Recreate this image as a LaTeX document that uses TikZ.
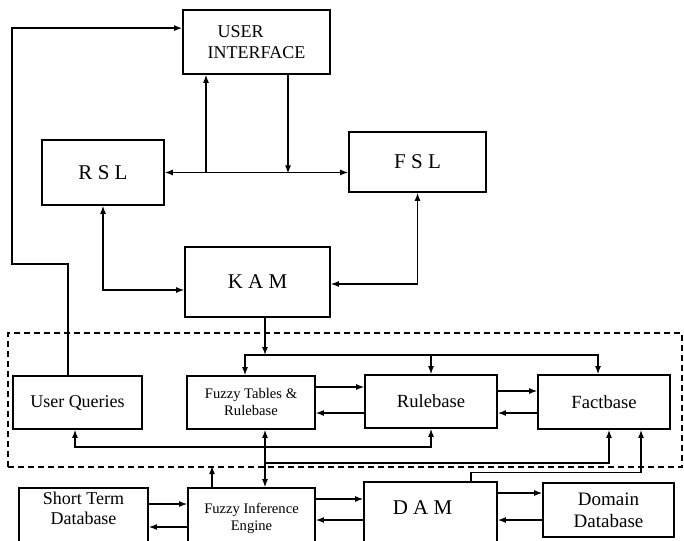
\documentclass[tikz,border=0pt]{standalone}
\usepackage{fontspec}
\setmainfont{Liberation Serif}
\newfontfamily\boxfont{Liberation Serif}
\usepackage{tikz}
\usetikzlibrary{positioning}
\usetikzlibrary{arrows.meta}

\begin{document}
\begin{tikzpicture}[
  x=0.5pt, y=-0.5pt,
  line width=0.6pt,
  >={Latex[length=4pt,width=3pt]},
  box/.style={draw, line width=0.9pt, inner sep=0pt, align=center},
  txt/.style={inner sep=0pt, align=center},
  big/.style={font=\boxfont\fontsize{10.5}{12}\selectfont},
  mid/.style={font=\boxfont\fontsize{9}{10}\selectfont},
  small/.style={font=\boxfont\fontsize{7.3}{8.5}\selectfont}]
  \useasboundingbox (0,0) rectangle (684,540);
  \clip (0,0) rectangle (684,540);

  % upper part
  \node[box, font=\boxfont\fontsize{9}{10.5}\selectfont, align=left, minimum width=73.5pt, minimum height=32pt] (ui) at (256.5,42) {\hspace*{5pt}USER\\INTERFACE};
  \node[box, big, minimum width=61pt, minimum height=32.5pt] (rsl) at (103,172.5) {R S L};
  \node[box, big, minimum width=68.5pt, minimum height=30pt] (fsl) at (417.5,162) {F S L};
  \node[box, big, minimum width=72.5pt, minimum height=35pt] (kam) at (257.5,282) {K A M};

  % knowledge base
  \node[box, dash pattern=on 3pt off 2pt, minimum width=337pt, minimum height=67pt] (kbase) at (345,400) {};
  \node[box, mid, minimum width=64.5pt, minimum height=26.5pt] (uq) at (77.5,402.5) {User Queries};
  \node[box, small, minimum width=64pt, minimum height=26.5pt] (ft) at (251,402.5) {Fuzzy Tables \&\\Rulebase};
  \node[box, font=\boxfont\fontsize{9.3}{10}\selectfont, minimum width=66pt, minimum height=26.5pt] (rb) at (431,401.5) {Rulebase};
  \node[box, font=\boxfont\fontsize{9.3}{10}\selectfont, minimum width=66pt, minimum height=27pt] (fb) at (604,402) {Factbase};

  % lower part
  \node[box, minimum width=64.5pt, minimum height=41pt] (st) at (83.5,529) {};
  \node[box, minimum width=63.5pt, minimum height=41pt] (fie) at (251.5,529) {};
  \node[box, minimum width=66.5pt, minimum height=44pt] (dam) at (430.5,526) {};
  \node[box, font=\boxfont\fontsize{9.5}{11}\selectfont, minimum width=65.5pt, minimum height=27pt] (dd) at (608.5,510) {Domain\\Database};
  \node[txt, mid, below=2pt of st.north] (sttext) {Short Term\\Database};
  \node[txt, small, below=8pt of fie.north] (fietext) {Fuzzy Inference\\Engine};
  \node[txt, big, below=9.5pt of dam.north, xshift=-4pt] (damtext) {D A M};

  \coordinate (loop) at (12,264);
  \coordinate (kbus) at (265,355);

  % top connectors
  \draw[->] ([xshift=-4.75pt]uq.north) |- (loop) |- ([yshift=-9.5pt]ui.north west);
  \draw[<->] (rsl.east) -- (rsl.east -| fsl.west);
  \draw[<-] ([xshift=-25.25pt]ui.south) -- ++(0,98.5);
  \draw[->] ([xshift=15.75pt]ui.south) -- ++(0,98.5);
  \draw[<->] (rsl.south) |- ([yshift=-4pt]kam.west);
  \draw[<->] (fsl.south) |- ([yshift=-1pt]kam.east);

  % into the knowledge base
  \draw[->] ([xshift=3.75pt]kam.south) -- (kbus);
  \draw[<->] ([xshift=-3pt]ft.north) |- (kbus) -| ([xshift=-3pt]fb.north);
  \draw[->] (kbus -| rb.north) -- (rb.north);
  \draw[->] ([yshift=7.75pt]ft.east) -- ([yshift=7.25pt]rb.west);
  \draw[<-] ([yshift=-5.25pt]ft.east) -- ([yshift=-5.75pt]rb.west);
  \draw[->] ([yshift=5.25pt]rb.east) -- ([yshift=5.5pt]fb.west);
  \draw[<-] ([yshift=-5.75pt]rb.east) -- ([yshift=-5.5pt]fb.west);
  \draw[<->] ([xshift=-1.25pt]uq.south) -- ++(0,17) -| (rb.south);
  \draw[<->] ([xshift=7pt]ft.south) -- ([xshift=6.75pt]fie.north);
  \draw[->] ([xshift=7pt]ft.south) ++(0,33) -| ([xshift=2.5pt]fb.south);
  \draw[->] ([xshift=-19.75pt]fie.north) -- ++(0,-21);
  \draw[->] ([xshift=20.25pt]dam.north) -- ++(0,-9) -| ([xshift=18.5pt]fb.south);

  % bottom connectors
  \draw[->] ([yshift=12.5pt]st.east) -- ([yshift=12.5pt]fie.west);
  \draw[<-] ([yshift=1pt]st.east) -- ([yshift=1pt]fie.west);
  \draw[->] ([yshift=15pt]fie.east) -- ([yshift=13.5pt]dam.west);
  \draw[<-] ([yshift=4.5pt]fie.east) -- ([yshift=3pt]dam.west);
  \draw[->] ([yshift=16.5pt]dam.east) -- ([yshift=8.5pt]dd.west);
  \draw[<-] ([yshift=3pt]dam.east) -- ([yshift=-5pt]dd.west);
\end{tikzpicture}
\end{document}
